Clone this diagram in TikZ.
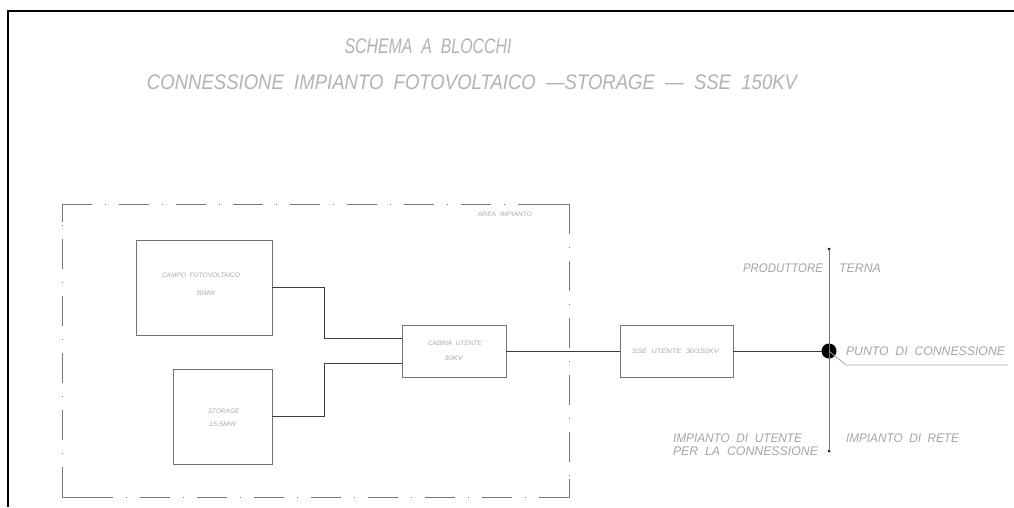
\documentclass[tikz,border=0pt]{standalone}
\usepackage{fontspec}
\setmainfont{Liberation Sans}
\usepackage{graphicx}
\usetikzlibrary{calc}
\definecolor{ttl}{RGB}{178,178,178}
\definecolor{lbl}{RGB}{165,165,165}
\definecolor{small}{RGB}{170,170,170}
\definecolor{boxc}{RGB}{115,115,115}
\definecolor{conc}{RGB}{60,60,60}
\definecolor{dashc}{RGB}{120,120,120}
\newcommand\fitw[2]{\resizebox{#1}{\height}{#2}}
\begin{document}
\begin{tikzpicture}[x=1pt,y=-1pt,
  every node/.style={inner sep=0pt,outer sep=0pt},
  ttltext/.style={text=ttl,font=\fontsize{21}{21}\selectfont\itshape},
  lbltext/.style={text=lbl,font=\fontsize{12.5}{12.5}\selectfont\itshape},
  smalltext/.style={text=small,font=\fontsize{6.5}{6.5}\selectfont\itshape},
  blk/.style={draw=boxc,line width=0.9pt,rectangle},
  conn/.style={draw=conc,line width=0.9pt},
  area/.style={draw=dashc,line width=0.9pt,dash pattern=on 30pt off 13pt on 1pt off 13pt},
  areacorner/.style={draw=dashc,line width=0.9pt},
  enddot/.style={circle,fill=black,minimum size=3pt}]
\useasboundingbox (0,0) rectangle (1014,507);
% frame
\coordinate (fbl) at (8,507);
\coordinate (ftl) at (8,11);
\coordinate (ftr) at (1014,11);
\draw[line width=2pt] (fbl) -- (ftl) -- (ftr);
% titles
\node[ttltext] (t1) at (428,46) {\fitw{167pt}{SCHEMA\ \ A\ \ BLOCCHI}};
\node[ttltext] (t2) at (472,82) {\fitw{650pt}{CONNESSIONE\ \ IMPIANTO\ \ FOTOVOLTAICO\ \ ---STORAGE\ \ ---\ \ SSE\ \ 150KV}};
% area
\coordinate (atl) at (62,204);
\coordinate (atr) at (569,204);
\coordinate (abr) at (569,497);
\coordinate (abl) at (62,497);
\draw[area] (atl) -- (atr);
\draw[area] (atr) -- (abr);
\draw[area] (abr) -- (abl);
\draw[area] (abl) -- (atl);
\draw[areacorner] ($(atl)+(0,18)$) -- (atl) -- ($(atl)+(30,0)$);
\draw[areacorner] ($(atr)+(-30,0)$) -- (atr) -- ($(atr)+(0,18)$);
\draw[areacorner] ($(abr)+(0,-18)$) -- (abr) -- ($(abr)+(-30,0)$);
\draw[areacorner] ($(abl)+(30,0)$) -- (abl) -- ($(abl)+(0,-18)$);
\node[smalltext,anchor=west] (areal) at (478,214) {\fitw{54pt}{AREA\ \ IMPIANTO}};
% blocks
\node[blk,minimum width=136,minimum height=95] (campo) at (204,287.5) {};
\node[smalltext] (campo1) at (201,275) {\fitw{78pt}{CAMPO\ \ FOTOVOLTAICO}};
\node[smalltext] (campo2) at (205.5,293) {\fitw{19pt}{30MW}};
\node[blk,minimum width=99,minimum height=95] (stor) at (222.5,416.5) {};
\node[smalltext] (stor1) at (223.5,411) {\fitw{31pt}{STORAGE}};
\node[smalltext] (stor2) at (222.5,424) {\fitw{27pt}{15.5MW}};
\node[blk,minimum width=104,minimum height=52] (cab) at (454,351) {};
\node[smalltext] (cab1) at (455,343) {\fitw{54pt}{CABINA\ \ UTENTE}};
\node[smalltext] (cab2) at (453.5,358) {\fitw{19pt}{30KV}};
\node[blk,minimum width=113,minimum height=52] (sse) at (676.5,351) {};
\node[smalltext] (sse1) at (675.5,351) {\fitw{87pt}{SSE\ \ UTENTE\ \ 30/150KV}};
% connectors
\draw[conn] (campo.east) -- (324,287.5) |- ($(cab.west)+(0,-13)$);
\draw[conn] (stor.east) -- (324,416.5) |- ($(cab.west)+(0,12)$);
\draw[conn] (cab.east) -- (sse.west);
\node[circle,fill=black,minimum size=15pt] (pc) at (829,351) {};
\draw[conn] (sse.east) -- (pc);
% boundary line
\node[enddot] (vt) at (829,249) {};
\node[enddot] (vb) at (829,451) {};
\draw[draw=boxc,line width=0.9pt] (vt.center) -- (vb.center);
% lead line
\coordinate (lk) at (846,365);
\coordinate (le) at (1008,365);
\draw[draw=lbl,line width=0.8pt] (pc.center) -- (lk) -- (le);
% labels
\node[lbltext,anchor=east] (prod) at (823,268) {\fitw{80pt}{PRODUTTORE}};
\node[lbltext,anchor=west] (terna) at (839,268) {\fitw{42pt}{TERNA}};
\node[lbltext,anchor=west] (punto) at (846,351) {\fitw{159pt}{PUNTO\ \ DI\ \ CONNESSIONE}};
\node[lbltext,anchor=west] (iu1) at (673,438) {\fitw{129pt}{IMPIANTO\ \ DI\ \ UTENTE}};
\node[lbltext,anchor=west] (iu2) at (673,451) {\fitw{145pt}{PER\ \ LA\ \ CONNESSIONE}};
\node[lbltext,anchor=west] (ir) at (846,438) {\fitw{113pt}{IMPIANTO\ \ DI\ \ RETE}};
\end{tikzpicture}
\end{document}
